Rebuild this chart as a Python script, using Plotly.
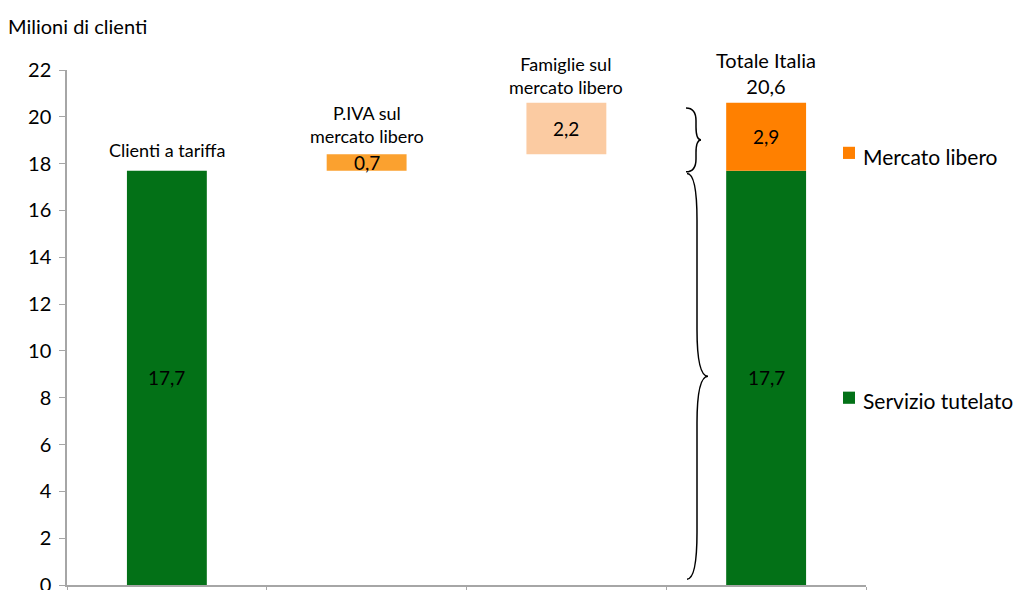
import plotly.graph_objects as go

# ---- data ----
categories = ["Clienti a tariffa", "P.IVA sul mercato libero", "Famiglie sul mercato libero", "Totale Italia"]
tutelato = 17.7          # Servizio tutelato
piva_libero = 0.7        # P.IVA sul mercato libero
famiglie_libero = 2.2    # Famiglie sul mercato libero
libero_totale = 2.9      # Mercato libero totale
totale = 20.6
y_ticks = list(range(0, 23, 2))

GREEN = "#037117"
ORANGE = "#FF8000"
ORANGE2 = "#FBA12F"
PEACH = "#FBCBA2"
FONT = "Lato"

def fmt(v):
    return f"{v:.1f}".replace(".", ",")

fig = go.Figure()
bw = 0.4
fig.add_trace(go.Bar(x=[categories[0], categories[3]], y=[tutelato, tutelato], base=[0, 0],
                     marker=dict(color=GREEN, line=dict(width=0)), width=bw, name="Servizio tutelato",
                     showlegend=False))
fig.add_trace(go.Bar(x=[categories[1]], y=[piva_libero], base=[tutelato],
                     marker=dict(color=ORANGE2, line=dict(width=0)), width=bw, showlegend=False))
fig.add_trace(go.Bar(x=[categories[2]], y=[famiglie_libero], base=[tutelato + piva_libero],
                     marker=dict(color=PEACH, line=dict(width=0)), width=bw, showlegend=False))
fig.add_trace(go.Bar(x=[categories[3]], y=[libero_totale], base=[tutelato],
                     marker=dict(color=ORANGE, line=dict(width=0)), width=bw, name="Mercato libero",
                     showlegend=False))

VAL = 19
ann = []
# values inside bars
ann.append(dict(x=categories[0], y=tutelato / 2, text=fmt(tutelato), showarrow=False, font=dict(size=VAL)))
ann.append(dict(x=categories[3], y=tutelato / 2, text=fmt(tutelato), showarrow=False, font=dict(size=VAL)))
ann.append(dict(x=categories[1], y=tutelato + piva_libero / 2, text=fmt(piva_libero), showarrow=False, font=dict(size=VAL)))
ann.append(dict(x=categories[2], y=tutelato + piva_libero + famiglie_libero / 2, text=fmt(famiglie_libero),
                showarrow=False, font=dict(size=VAL)))
ann.append(dict(x=categories[3], y=tutelato + libero_totale / 2, text=fmt(libero_totale), showarrow=False, font=dict(size=VAL)))
# category labels above
ann.append(dict(x=categories[0], y=tutelato, yanchor="bottom", yshift=8, text="Clienti a tariffa",
                showarrow=False, font=dict(size=18)))
ann.append(dict(x=categories[1], y=tutelato + piva_libero, yanchor="bottom", yshift=5,
                text="P.IVA sul<br>mercato libero", showarrow=False, font=dict(size=18)))
ann.append(dict(x=categories[2], y=tutelato + piva_libero + famiglie_libero, yanchor="bottom", yshift=3,
                text="Famiglie sul<br>mercato libero", showarrow=False, font=dict(size=18)))
ann.append(dict(x=categories[3], y=totale, yanchor="bottom", yshift=3,
                text="Totale Italia<br>" + fmt(totale), showarrow=False, font=dict(size=20)))
# title
ann.append(dict(xref="paper", yref="paper", x=-0.076, y=1.0, yshift=30, xanchor="left", yanchor="bottom",
                text="Milioni di clienti", showarrow=False, font=dict(size=20)))
# legend texts
leg_merc_y = 18.3
leg_serv_y = 7.9
ann.append(dict(xref="paper", yref="y", x=0.994, y=leg_merc_y, xanchor="left",
                text="Mercato libero", showarrow=False, font=dict(size=21)))
ann.append(dict(xref="paper", yref="y", x=0.994, y=leg_serv_y, xanchor="left",
                text="Servizio tutelato", showarrow=False, font=dict(size=21)))

shapes = []
def px_to_paper(px):
    return (px - 67) / 799.0

# legend squares
for yc, col in [(18.46, ORANGE), (8.0, GREEN)]:
    shapes.append(dict(type="rect", xref="paper", yref="y", x0=px_to_paper(843), x1=px_to_paper(855),
                       y0=yc - 0.26, y1=yc + 0.26, fillcolor=col, line=dict(width=0)))

def brace(ytop, ybot, x0, x1, x2, r):
    ymid = (ytop + ybot) / 2
    return (f"M {x0},{ytop} Q {x1},{ytop} {x1},{ytop - r} L {x1},{ymid + r} "
            f"Q {x1},{ymid} {x2},{ymid} Q {x1},{ymid} {x1},{ymid - r} "
            f"L {x1},{ybot + r} Q {x1},{ybot} {x0},{ybot}")

# braces next to total bar
shapes.append(dict(type="path", xref="paper", yref="y",
                   path=brace(totale - 0.22, tutelato - 0.05, px_to_paper(686), px_to_paper(696), px_to_paper(701), 0.55),
                   line=dict(color="black", width=1.5)))
shapes.append(dict(type="path", xref="paper", yref="y",
                   path=brace(tutelato - 0.12, 0.25, px_to_paper(687), px_to_paper(697), px_to_paper(708), 2.0),
                   line=dict(color="black", width=1.5)))

fig.update_layout(
    width=1015, height=590,
    margin=dict(l=67, r=149, t=70, b=5, autoexpand=False),
    paper_bgcolor="white", plot_bgcolor="white",
    font=dict(family=FONT, color="black"),
    barmode="overlay",
    annotations=ann, shapes=shapes,
    showlegend=False,
)
fig.update_xaxes(type="category", categoryorder="array", categoryarray=categories,
                 range=[-0.5, 3.5], showticklabels=False, ticks="outside", tickson="boundaries",
                 ticklen=6, tickcolor="#A6A6A6", showline=True, linecolor="#A6A6A6", linewidth=1.5,
                 showgrid=False, zeroline=False, automargin=False)
fig.update_yaxes(range=[0, 22], tickvals=y_ticks, ticks="outside", ticklen=6, tickcolor="#A6A6A6",
                 showline=True, linecolor="#A6A6A6", linewidth=1.5, showgrid=False, zeroline=False,
                 tickfont=dict(size=20), ticklabelstandoff=4, automargin=False,
                 ticklabeloverflow="allow")

fig.write_html("out.html", config={"displayModeBar": False},
               post_script="document.body.style.margin='0';document.body.style.overflow='hidden';")
